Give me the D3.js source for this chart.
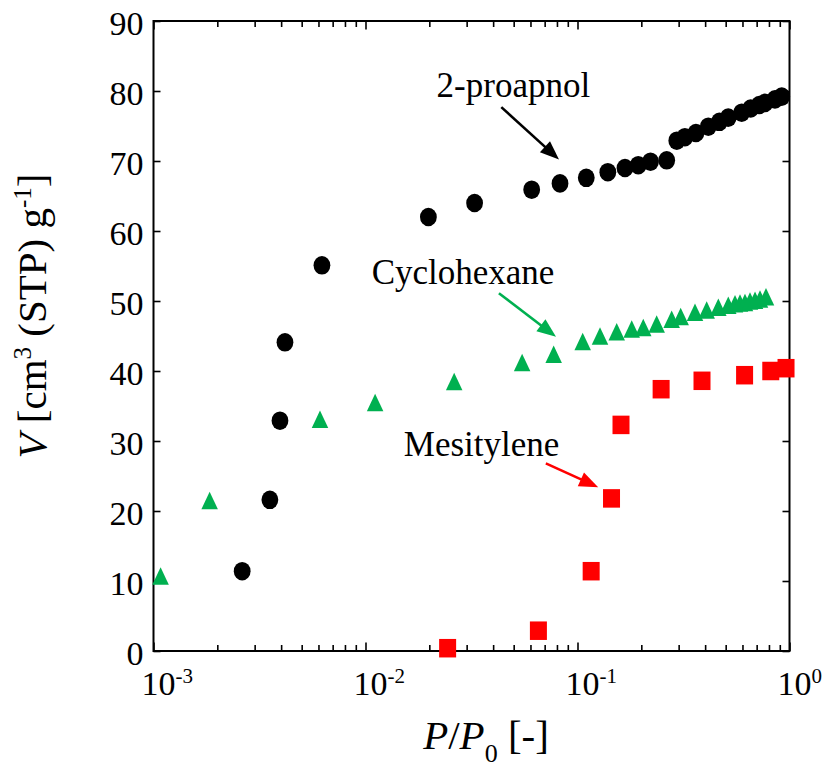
<!DOCTYPE html>
<html>
<head>
<meta charset="utf-8">
<script src="https://cdn.jsdelivr.net/npm/d3@7"></script>
<style>
  html, body { margin: 0; padding: 0; background: #fff; }
  svg { display: block; }
  text { font-family: "Liberation Serif", "Times New Roman", serif; fill: #000; }
</style>
</head>
<body>
<svg id="chart" width="825" height="763"></svg>
<script>
// Adsorption isotherms: relative pressure P/P0 and adsorbed volume V
const propanolP = [0.00262, 0.00354, 0.00395, 0.00417, 0.00623, 0.0198, 0.0327, 0.0608, 0.0827, 0.110,
                   0.139, 0.1675, 0.1935, 0.221, 0.2635, 0.294, 0.321, 0.362, 0.414, 0.467,
                   0.514, 0.595, 0.656, 0.720, 0.766, 0.854, 0.919];
const propanolV = [11.4, 21.6, 32.9, 44.1, 55.1, 62.0, 64.0, 65.9, 66.8, 67.6,
                   68.4, 69.0, 69.4, 69.9, 70.1, 72.9, 73.4, 74.0, 74.9, 75.6,
                   76.2, 76.9, 77.5, 78.0, 78.3, 78.8, 79.2];

const cyclohexaneP = [0.00108, 0.00184, 0.0061, 0.0111, 0.0262, 0.0548, 0.0772, 0.1058, 0.1277, 0.1531,
                      0.1802, 0.2043, 0.2363, 0.2781, 0.3067, 0.3583, 0.4068, 0.4616, 0.5143, 0.5533,
                      0.5842, 0.6167, 0.6511, 0.6877, 0.7259, 0.7747];
const cyclohexaneV = [10.7, 21.5, 33.1, 35.5, 38.5, 41.2, 42.4, 44.2, 45.0, 45.6,
                      46.0, 46.2, 46.7, 47.4, 47.8, 48.4, 48.7, 49.1, 49.4, 49.6,
                      49.7, 49.8, 50.0, 50.1, 50.3, 50.6];

const mesityleneP = [0.0244, 0.0654, 0.116, 0.1447, 0.1604, 0.248, 0.3866, 0.614, 0.816, 0.963];
const mesityleneV = [0.4, 2.9, 11.4, 21.8, 32.3, 37.4, 38.6, 39.4, 40.0, 40.4];

// Axis ticks
const xMajorTicks = [1e-3, 1e-2, 1e-1, 1];
const xTickExponents = ["-3", "-2", "-1", "0"];
const yTicks = [0, 10, 20, 30, 40, 50, 60, 70, 80, 90];

// Series labels with arrow start / tip, in data units (P/P0, V)
const labelNames = ["2-proapnol", "Cyclohexane", "Mesitylene"];
const labelAt = [[0.02165, 79.1], [0.01069, 52.5], [0.01516, 27.8]];
const arrowFrom = [[0.0437, 77.7], [0.0426, 51.1], [0.0709, 26.8]];
const arrowTo = [[0.0818, 70.2], [0.0792, 44.9], [0.1252, 23.4]];
const seriesColors = ["#000000", "#00b050", "#ff0000"];

const svg = d3.select("#chart");
const plot = { left: 153.5, right: 789.5, top: 21, bottom: 651 };

const x = d3.scaleLog().domain([1e-3, 1]).range([plot.left, plot.right]);
const y = d3.scaleLinear().domain([0, 90]).range([plot.bottom, plot.top]);

const frameWidth = 2;

// Log minor ticks (2..9 per decade)
const xAllTicks = x.ticks();
const xMinorTicks = xAllTicks.filter(v => !xMajorTicks.some(m => Math.abs(m - v) / m < 1e-9));

function tickAxis(axis, transform) {
  const g = svg.append("g").attr("transform", transform).call(axis);
  g.select(".domain").remove();
  g.selectAll(".tick line").attr("stroke", "#000").attr("stroke-width", 1.6);
  g.selectAll(".tick text").remove();
  return g;
}

// Inward ticks on all four sides
tickAxis(d3.axisBottom(x).tickValues(xMinorTicks).tickSize(-6), `translate(0,${plot.bottom})`);
tickAxis(d3.axisBottom(x).tickValues(xMajorTicks).tickSize(-8.5), `translate(0,${plot.bottom})`);
tickAxis(d3.axisTop(x).tickValues(xMinorTicks).tickSize(-6), `translate(0,${plot.top})`);
tickAxis(d3.axisTop(x).tickValues(xMajorTicks).tickSize(-8.5), `translate(0,${plot.top})`);
tickAxis(d3.axisLeft(y).tickValues(yTicks).tickSize(-7), `translate(${plot.left},0)`);
tickAxis(d3.axisRight(y).tickValues(yTicks).tickSize(-7), `translate(${plot.right},0)`);

// Frame
svg.append("rect")
  .attr("x", plot.left).attr("y", plot.top)
  .attr("width", plot.right - plot.left).attr("height", plot.bottom - plot.top)
  .attr("fill", "none").attr("stroke", "#000").attr("stroke-width", frameWidth);

// Y tick labels
svg.append("g").selectAll("text").data(yTicks).join("text")
  .attr("x", plot.left - 10)
  .attr("y", d => y(d) + 14)
  .attr("text-anchor", "end")
  .attr("font-size", 34)
  .text(d => d);

// X tick labels: 10 with superscript exponent
const xl = svg.append("g").selectAll("text").data(xMajorTicks).join("text")
  .attr("x", d => x(d) - 12)
  .attr("y", plot.bottom + 44)
  .attr("font-size", 34);
xl.append("tspan").text("10");
xl.append("tspan")
  .attr("font-size", 21)
  .attr("dy", -12)
  .text((d, i) => xTickExponents[i]);

// X axis title: P/P0 [-]
const xt = svg.append("text")
  .attr("x", 486).attr("y", 749)
  .attr("text-anchor", "middle")
  .attr("font-size", 41);
xt.append("tspan").attr("font-style", "italic").text("P");
xt.append("tspan").text("/");
xt.append("tspan").attr("font-style", "italic").text("P");
xt.append("tspan").attr("font-size", 26).attr("dy", 13).text("0");
xt.append("tspan").attr("dy", -13).text(" [-]");

// Y axis title: V [cm3 (STP) g-1]
const yt = svg.append("text")
  .attr("transform", "translate(46,316) rotate(-90)")
  .attr("text-anchor", "middle")
  .attr("font-size", 41);
yt.append("tspan").attr("font-style", "italic").text("V");
yt.append("tspan").text(" [cm");
yt.append("tspan").attr("font-size", 25).attr("dy", -15).text("3");
yt.append("tspan").attr("dy", 15).text(" (STP) g");
yt.append("tspan").attr("font-size", 25).attr("dy", -15).text("-1");
yt.append("tspan").attr("dy", 15).text("]");

// Markers
const cyclo = cyclohexaneP.map((p, i) => [p, cyclohexaneV[i]]);
const mesi = mesityleneP.map((p, i) => [p, mesityleneV[i]]);
const prop = propanolP.map((p, i) => [p, propanolV[i]]);

const triW = 16.5, triH = 17.5;
svg.append("g").selectAll("path").data(cyclo).join("path")
  .attr("d", d => {
    const cx = x(d[0]), cy = y(d[1]);
    return `M${cx},${cy - triH / 2}L${cx + triW / 2},${cy + triH / 2}L${cx - triW / 2},${cy + triH / 2}Z`;
  })
  .attr("fill", seriesColors[1]);

const sqW = 17, sqH = 18.5;
svg.append("g").selectAll("rect").data(mesi).join("rect")
  .attr("x", d => x(d[0]) - sqW / 2)
  .attr("y", d => y(d[1]) - sqH / 2)
  .attr("width", sqW).attr("height", sqH)
  .attr("fill", seriesColors[2]);

svg.append("g").selectAll("ellipse").data(prop).join("ellipse")
  .attr("cx", d => x(d[0]))
  .attr("cy", d => y(d[1]))
  .attr("rx", 8.4).attr("ry", 9.3)
  .attr("fill", seriesColors[0]);

// Labels and arrows
labelNames.forEach((name, i) => {
  svg.append("text")
    .attr("x", x(labelAt[i][0]))
    .attr("y", y(labelAt[i][1]))
    .attr("font-size", 35)
    .text(name);

  const x0 = x(arrowFrom[i][0]), y0 = y(arrowFrom[i][1]);
  const x1 = x(arrowTo[i][0]), y1 = y(arrowTo[i][1]);
  const len = Math.hypot(x1 - x0, y1 - y0);
  const ux = (x1 - x0) / len, uy = (y1 - y0) / len;
  const headL = 19, headW = 15;
  const bx = x1 - ux * headL, by = y1 - uy * headL;
  svg.append("line")
    .attr("x1", x0).attr("y1", y0)
    .attr("x2", bx + ux * 2).attr("y2", by + uy * 2)
    .attr("stroke", seriesColors[i]).attr("stroke-width", 2.6);
  svg.append("path")
    .attr("d", `M${x1},${y1}L${bx - uy * headW / 2},${by + ux * headW / 2}L${bx + uy * headW / 2},${by - ux * headW / 2}Z`)
    .attr("fill", seriesColors[i]);
});
</script>
</body>
</html>
